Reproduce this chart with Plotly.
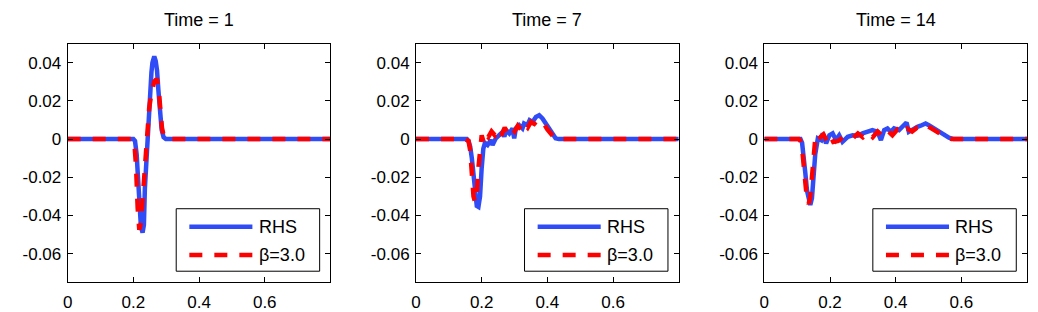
import plotly.graph_objects as go

# ---------------- data ----------------
titles = ["Time = 1", "Time = 7", "Time = 14"]
legend_labels = ["RHS", "β=3.0"]
x_ticks = [0, 0.2, 0.4, 0.6]
x_tick_text = ["0", "0.2", "0.4", "0.6"]
y_ticks = [0.04, 0.02, 0, -0.02, -0.04, -0.06]
y_tick_text = ["0.04", "0.02", "0", "-0.02", "-0.04", "-0.06"]
x_range = [0, 0.8]
y_range = [-0.075, 0.05]

# Time = 1
t1_x_rhs = [0, 0.200, 0.205, 0.210, 0.213, 0.218, 0.223, 0.228, 0.232, 0.235, 0.239, 0.243,
            0.247, 0.2515, 0.255, 0.258, 0.2636, 0.268, 0.272, 0.276, 0.279, 0.283, 0.286,
            0.292, 0.299, 0.8]
t1_y_rhs = [0, 0, -0.001, -0.008, -0.017, -0.035, -0.046, -0.049, -0.045, -0.026, -0.012, 0.0,
            0.013, 0.026, 0.035, 0.040, 0.0433, 0.041, 0.036, 0.026, 0.017, 0.009, 0.005,
            0.001, 0, 0]
t1_x_beta = [0, 0.198, 0.203, 0.208, 0.213, 0.218, 0.223, 0.228, 0.233, 0.238, 0.243,
             0.248, 0.253, 0.258, 0.263, 0.268, 0.272, 0.277, 0.282, 0.287, 0.292, 0.298, 0.303, 0.8]
t1_y_beta = [0, 0, -0.002, -0.014, -0.036, -0.0475, -0.044, -0.032, -0.015, 0.0, 0.009,
             0.016, 0.022, 0.027, 0.030, 0.031, 0.031, 0.026, 0.015, 0.006, 0.002, 0.0005, 0, 0]

# Time = 7
t7_x_rhs = [0, 0.155, 0.16, 0.165, 0.17, 0.175, 0.18, 0.185, 0.19, 0.195, 0.2, 0.205, 0.21,
            0.218, 0.228, 0.233, 0.243, 0.254, 0.264, 0.269, 0.274, 0.284, 0.294, 0.299, 0.304,
            0.314, 0.324, 0.329, 0.339, 0.346, 0.355, 0.365, 0.375, 0.385, 0.395, 0.405, 0.415,
            0.425, 0.435, 0.8]
t7_y_rhs = [0, 0, -0.001, -0.004, -0.010, -0.020, -0.030, -0.035, -0.0355, -0.030, -0.015,
            -0.005, -0.002, -0.0031, -0.0005, -0.0031, 0.0004, 0.0021, 0.0038, 0.0012, 0.0047,
            0.0030, 0.0056, 0.0004, 0.0056, 0.0073, 0.0056, 0.0082, 0.0073, 0.0099, 0.0090,
            0.0116, 0.0125, 0.0108, 0.0082, 0.0047, 0.0021, 0.0004, 0, 0]
t7_x_beta = [0, 0.15, 0.16, 0.165, 0.17, 0.175, 0.18, 0.185, 0.19, 0.195, 0.2, 0.205, 0.21,
             0.22, 0.23, 0.24, 0.25, 0.26, 0.27, 0.28, 0.29, 0.30, 0.31, 0.32, 0.33, 0.34, 0.35,
             0.36, 0.37, 0.38, 0.39, 0.40, 0.41, 0.42, 0.43, 0.8]
t7_y_beta = [0, 0, -0.001, -0.006, -0.018, -0.030, -0.033, -0.028, -0.015, -0.003, 0.002,
             -0.001, 0.003, 0.001, 0.004, 0.002, 0.005, 0.002, 0.006, 0.003, 0.006, 0.004,
             0.007, 0.005, 0.008, 0.006, 0.009, 0.008, 0.010, 0.0095, 0.008, 0.005, 0.0025,
             0.001, 0, 0]

# Time = 14
t14_x_rhs = [0, 0.11, 0.115, 0.12, 0.125, 0.13, 0.135, 0.14, 0.145, 0.15, 0.155, 0.163, 0.173,
             0.178, 0.188, 0.198, 0.208, 0.218, 0.228, 0.238, 0.254, 0.269, 0.284, 0.299, 0.314,
             0.329, 0.345, 0.355, 0.365, 0.375, 0.385, 0.395, 0.41, 0.42, 0.433, 0.44, 0.456,
             0.466, 0.476, 0.491, 0.501, 0.516, 0.531, 0.546, 0.562, 0.577, 0.8]
t14_y_rhs = [0, 0, -0.002, -0.008, -0.018, -0.027, -0.032, -0.0345, -0.031, -0.020, -0.008,
             0.0004, -0.0005, 0.003, -0.0022, 0.002, 0.003, -0.0005, 0.002, -0.0014, 0.0012,
             0.002, 0.0018, 0.003, 0.0038, 0.0047, 0.0038, -0.0005, 0.0047, 0.0056, 0.0038,
             0.0056, 0.0047, 0.0064, 0.0087, 0.0038, 0.0056, 0.0064, 0.007, 0.0082, 0.0073,
             0.0056, 0.0038, 0.0021, 0.0007, 0, 0]
t14_x_beta = [0, 0.105, 0.11, 0.115, 0.12, 0.125, 0.13, 0.135, 0.14, 0.145, 0.15, 0.155, 0.16,
              0.17, 0.18, 0.19, 0.2, 0.21, 0.225, 0.24, 0.255, 0.27, 0.285, 0.3, 0.315, 0.33,
              0.345, 0.36, 0.375, 0.39, 0.405, 0.42, 0.435, 0.45, 0.465, 0.48, 0.495, 0.51,
              0.525, 0.54, 0.555, 0.57, 0.8]
t14_y_beta = [0, 0, -0.001, -0.005, -0.014, -0.025, -0.032, -0.034, -0.030, -0.020, -0.008,
              0.000, 0.003, 0.001, 0.0025, -0.001, 0.002, -0.0015, -0.001, 0.001, 0.0015,
              0.0005, 0.003, 0.001, 0.0035, 0.001, 0.004, 0.0015, 0.0045, 0.002, 0.005, 0.003,
              0.0055, 0.004, 0.006, 0.0055, 0.007, 0.0055, 0.004, 0.002, 0.0008, 0, 0]

panels = [
    (t1_x_rhs, t1_y_rhs, t1_x_beta, t1_y_beta),
    (t7_x_rhs, t7_y_rhs, t7_x_beta, t7_y_beta),
    (t14_x_rhs, t14_y_rhs, t14_x_beta, t14_y_beta),
]

# ---------------- style / layout ----------------
W, H = 1038, 312
BLUE = "#2f4cf7"
RED = "#ff0000"
LW = 4.5
DASH = "13px,12px"
FONT = "Liberation Sans, Arial, Helvetica, sans-serif"
x_px = [(63, 327), (413, 677), (763, 1027)]
y_top, y_bot = 44, 284

fig = go.Figure()
layout = dict(width=W, height=H, margin=dict(l=0, r=0, t=0, b=0),
              paper_bgcolor="white", plot_bgcolor="white", showlegend=False,
              font=dict(family=FONT, color="black"))
shapes, annotations = [], []

for i, (xr, yr, xb, yb) in enumerate(panels):
    n = "" if i == 0 else str(i + 1)
    xa, ya = "x" + n, "y" + n
    fig.add_trace(go.Scatter(x=xr, y=yr, mode="lines", xaxis=xa, yaxis=ya,
                             line=dict(color=BLUE, width=LW), name=legend_labels[0]))
    fig.add_trace(go.Scatter(x=xb, y=yb, mode="lines", xaxis=xa, yaxis=ya,
                             line=dict(color=RED, width=LW, dash=DASH), name=legend_labels[1]))
    x0, x1 = x_px[i]
    common = dict(showline=True, linecolor="black", linewidth=1, mirror="allticks",
                  ticks="inside", ticklen=5, tickwidth=1, tickcolor="black",
                  showgrid=False, zeroline=False, tickfont=dict(size=17, family=FONT))
    layout["xaxis" + n] = dict(domain=[x0 / W, x1 / W], range=x_range, anchor=ya,
                               tickvals=x_ticks, ticktext=x_tick_text,
                               ticklabelstandoff=4, **common)
    layout["yaxis" + n] = dict(domain=[1 - y_bot / H, 1 - y_top / H], range=y_range, anchor=xa,
                               tickvals=y_ticks, ticktext=y_tick_text,
                               ticklabelstandoff=2, **common)
    annotations.append(dict(text=titles[i], x=(x0 + x1) / 2 / W, y=1 - 20 / H,
                            xref="paper", yref="paper", xanchor="center", yanchor="middle",
                            showarrow=False, font=dict(size=18, family=FONT)))
    # legend box (drawn in axis-domain coordinates)
    xd, yd = xa + " domain", ya + " domain"
    shapes.append(dict(type="rect", xref=xd, yref=yd, x0=0.413, x1=0.959, y0=0.046, y1=0.308,
                       line=dict(color="black", width=1), fillcolor="white", layer="above"))
    shapes.append(dict(type="line", xref=xd, yref=yd, x0=0.463, x1=0.703, y0=0.232, y1=0.232,
                       line=dict(color=BLUE, width=LW), layer="above"))
    shapes.append(dict(type="line", xref=xd, yref=yd, x0=0.463, x1=0.703, y0=0.114, y1=0.114,
                       line=dict(color=RED, width=LW, dash=DASH), layer="above"))
    for lab, yy in zip(legend_labels, [0.232, 0.114]):
        annotations.append(dict(text=lab, xref=xd, yref=yd, x=0.72, y=yy,
                                xanchor="left", yanchor="middle", showarrow=False,
                                font=dict(size=18, family=FONT)))

layout["shapes"] = shapes
layout["annotations"] = annotations
fig.update_layout(**layout)
fig.write_html("out.html", config={"displayModeBar": False},
               post_script="document.body.style.margin='0';")
